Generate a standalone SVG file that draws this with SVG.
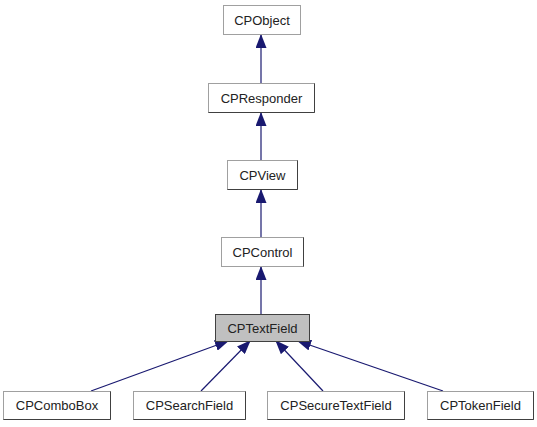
<svg xmlns="http://www.w3.org/2000/svg" width="537" height="427" viewBox="0 0 537 427">
<style>
.box{fill:#fff;stroke:#a0a0a0;stroke-width:1}
.sh{fill:none;stroke:#404040;stroke-width:1}
.lbl{font-family:"Liberation Sans",Arial,sans-serif;font-size:13px;fill:#222;text-anchor:middle}
.e{stroke:#191970;stroke-width:1.2;fill:none;marker-end:url(#ah)}
</style>
<defs>
<marker id="ah" markerWidth="14" markerHeight="11" refX="13" refY="5.5" orient="auto" markerUnits="userSpaceOnUse">
<path d="M0,0 L14,5.5 L0,11 Z" fill="#191970"/>
</marker>
</defs>
<rect width="537" height="427" fill="#fff"/>
<g id="connectors">
<line class="e" x1="261" y1="83" x2="261" y2="35"/>
<line class="e" x1="261" y1="160" x2="261" y2="113"/>
<line class="e" x1="261" y1="237" x2="261" y2="190"/>
<line class="e" x1="261" y1="314" x2="261" y2="267"/>
<line class="e" x1="91" y1="391" x2="228" y2="341"/>
<line class="e" x1="201" y1="391" x2="250" y2="341"/>
<line class="e" x1="323" y1="391" x2="276" y2="341"/>
<line class="e" x1="443" y1="391" x2="298" y2="341"/>
</g>
<g id="CPObject">
<rect class="box" x="223.5" y="5.5" width="77" height="29"/>
<text class="lbl" x="262" y="25">CPObject</text>
</g>
<g id="CPResponder">
<rect class="box" x="208.5" y="83.5" width="106" height="29"/>
<path class="sh" d="M208.5,112.5 H314.5 V83.5"/>
<text class="lbl" x="261.5" y="103">CPResponder</text>
</g>
<g id="CPView">
<rect class="box" x="227.5" y="160.5" width="70" height="29"/>
<path class="sh" d="M227.5,189.5 H297.5 V160.5"/>
<text class="lbl" x="262.5" y="180">CPView</text>
</g>
<g id="CPControl">
<rect class="box" x="221.5" y="237.5" width="82" height="29"/>
<path class="sh" d="M303.5,237.5 V266.5"/>
<text class="lbl" x="262.5" y="257">CPControl</text>
</g>
<g id="CPTextField">
<rect x="215.5" y="314.5" width="94" height="27" fill="#c0c0c0" stroke="#404040"/>
<text class="lbl" x="262.5" y="333">CPTextField</text>
</g>
<g id="CPComboBox">
<rect class="box" x="3.5" y="391.5" width="107" height="28"/>
<path class="sh" d="M3.5,419.5 H110.5 V391.5"/>
<text class="lbl" x="57" y="410">CPComboBox</text>
</g>
<g id="CPSearchField">
<rect class="box" x="133.5" y="391.5" width="112" height="28"/>
<path class="sh" d="M133.5,419.5 H245.5 V391.5"/>
<text class="lbl" x="189.5" y="410">CPSearchField</text>
</g>
<g id="CPSecureTextField">
<rect class="box" x="267.5" y="391.5" width="137" height="28"/>
<path class="sh" d="M267.5,419.5 H404.5 V391.5"/>
<text class="lbl" x="336" y="410">CPSecureTextField</text>
</g>
<g id="CPTokenField">
<rect class="box" x="427.5" y="391.5" width="106" height="28"/>
<path class="sh" d="M427.5,419.5 H533.5 V391.5"/>
<text class="lbl" x="480.5" y="410">CPTokenField</text>
</g>
</svg>
